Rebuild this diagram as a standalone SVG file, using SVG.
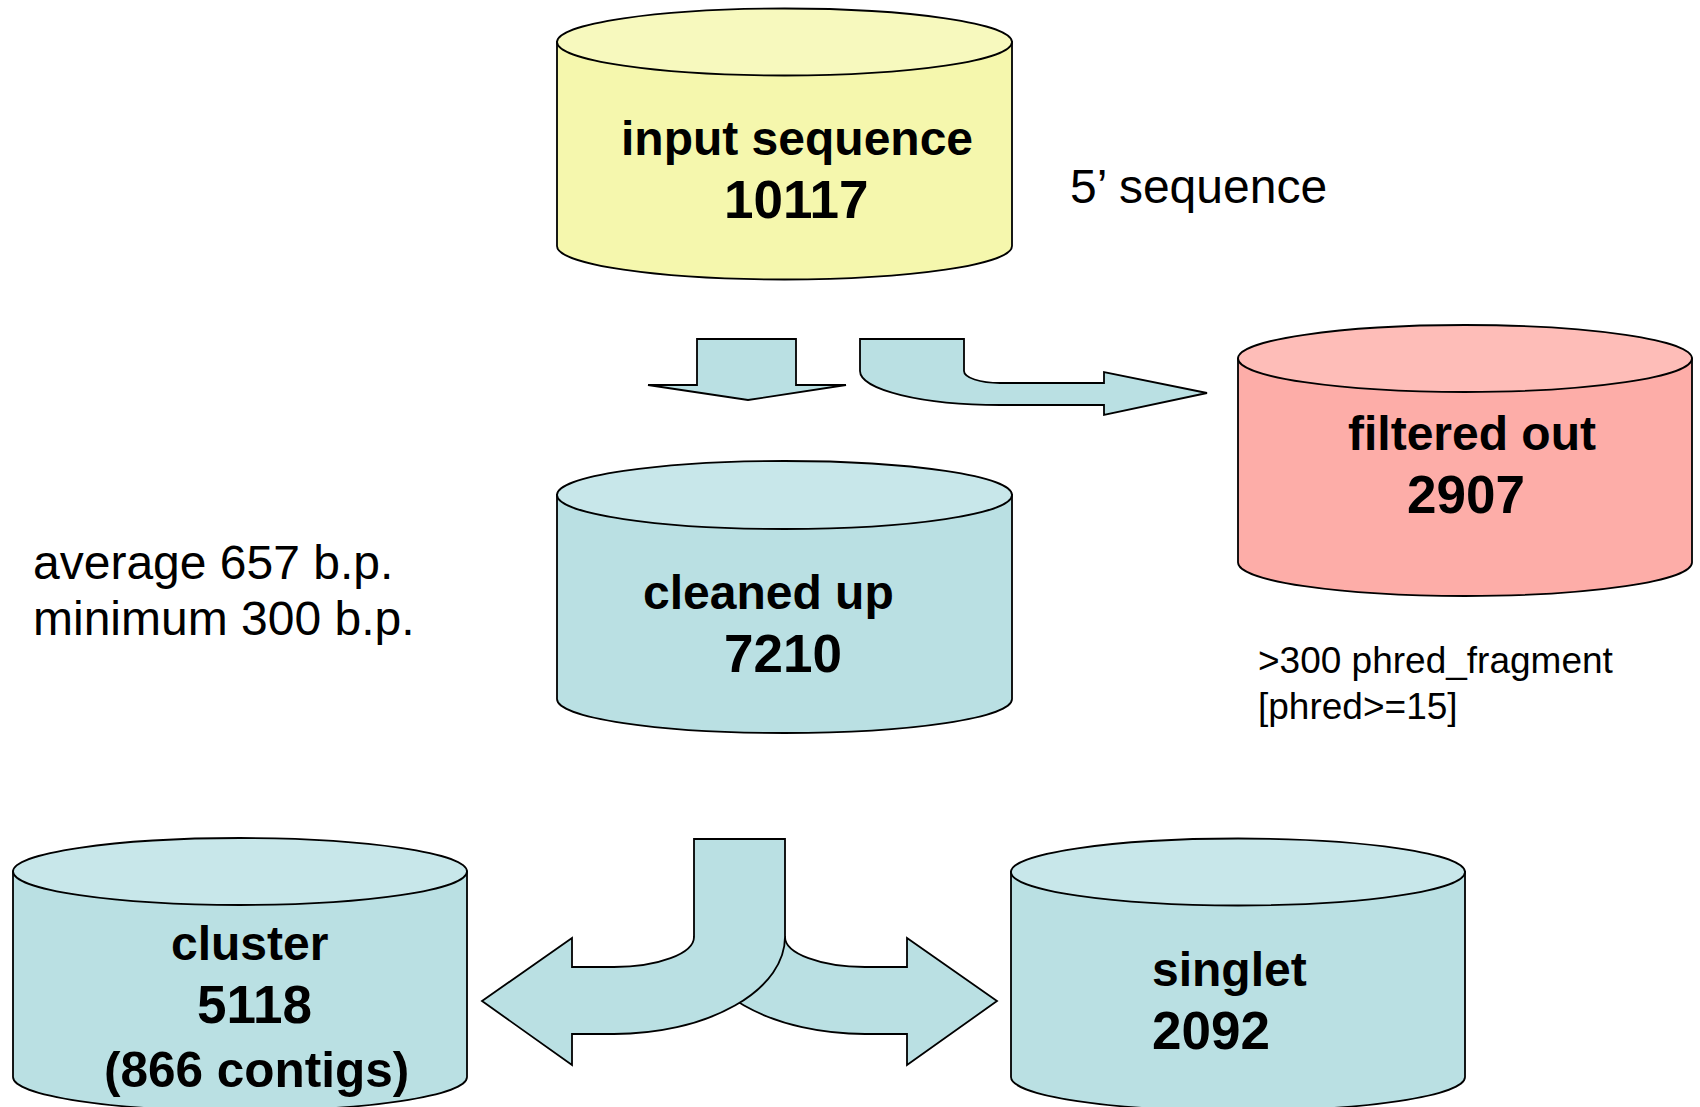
<svg xmlns="http://www.w3.org/2000/svg" width="1700" height="1107" viewBox="0 0 1700 1107">
  <style>
    text { font-family: "Liberation Sans", Arial, Helvetica, sans-serif; fill: #000; }
    .lbl { font-weight: bold; font-size: 48px; }
    .num { font-weight: bold; font-size: 53px; }
    .note { font-size: 48px; }
    .small { font-size: 37px; }
    .edge { stroke: #000; stroke-width: 1.8; stroke-linejoin: miter; }
    .yb { fill: #F5F7AD; } .yt { fill: #F7F9BE; }
    .tb { fill: #BAE0E3; } .tt { fill: #C8E7EA; }
    .pb { fill: #FDADA8; } .pt { fill: #FEBDB8; }
    .arrow { fill: #BAE0E3; stroke: #000; stroke-width: 1.8; stroke-linejoin: miter; }
  </style>

  <rect width="1700" height="1107" fill="#FFFFFF"/>

  <!-- cylinders: body (side + bottom arc), then the top cap -->
  <g id="input-sequence">
    <path class="edge yb" d="M557 42 V246 A227.5 33.5 0 0 0 1012 246 V42 Z"/>
    <ellipse class="edge yt" cx="784.5" cy="42" rx="227.5" ry="33.5"/>
    <text class="lbl" x="621" y="155">input sequence</text>
    <text class="num" x="724" y="218">10117</text>
  </g>

  <g id="filtered-out">
    <path class="edge pb" d="M1238 358.5 V562.5 A227 33.5 0 0 0 1692 562.5 V358.5 Z"/>
    <ellipse class="edge pt" cx="1465" cy="358.5" rx="227" ry="33.5"/>
    <text class="lbl" x="1348" y="450">filtered out</text>
    <text class="num" x="1407" y="513">2907</text>
  </g>

  <g id="cleaned-up">
    <path class="edge tb" d="M557 495 V699 A227.5 34 0 0 0 1012 699 V495 Z"/>
    <ellipse class="edge tt" cx="784.5" cy="495" rx="227.5" ry="34"/>
    <text class="lbl" x="643" y="609">cleaned up</text>
    <text class="num" x="724" y="672">7210</text>
  </g>

  <g id="cluster">
    <path class="edge tb" d="M13 871.5 V1077 A227 34 0 0 0 467 1077 V871.5 Z"/>
    <ellipse class="edge tt" cx="240" cy="871.5" rx="227" ry="33.5"/>
    <text class="lbl" x="171" y="960">cluster</text>
    <text class="num" x="197" y="1023">5118</text>
    <text class="num" x="104" y="1087" style="font-size:49.5px">(866 contigs)</text>
  </g>

  <g id="singlet">
    <path class="edge tb" d="M1011 872 V1077 A227 34 0 0 0 1465 1077 V872 Z"/>
    <ellipse class="edge tt" cx="1238" cy="872" rx="227" ry="33.5"/>
    <text class="lbl" x="1152" y="986">singlet</text>
    <text class="num" x="1152" y="1049">2092</text>
  </g>

  <!-- block arrows -->
  <g id="connectors">
    <!-- straight down: input -> cleaned up -->
    <path class="arrow" d="M697 339 H796 V385 H846 L748 400 L648 385 H697 Z"/>
    <!-- bent right: input -> filtered out -->
    <path class="arrow" d="M860 339 H964 V371 A36 12 0 0 0 1000 383 H1104 V372 L1207 393 L1104 415 V405 H1000 A140 34 0 0 1 860 371 Z"/>
    <!-- split: cleaned up -> singlet (behind) -->
    <path class="arrow" d="M694 937 A171 97 0 0 0 865 1034 H907 V1065 L997 1001 L907 938 V967 H865 A80 30 0 0 1 785 937 Z"/>
    <!-- split: cleaned up -> cluster (front) -->
    <path class="arrow" d="M694 839 H785 V937 A171 97 0 0 1 614 1034 H572 V1065 L482 1001 L572 938 V967 H614 A80 30 0 0 0 694 937 Z"/>
  </g>

  <!-- side notes -->
  <text class="note" x="1070" y="203">5’ sequence</text>
  <text class="note" x="33" y="579">average 657 b.p.</text>
  <text class="note" x="33" y="635">minimum 300 b.p.</text>
  <text class="small" x="1258" y="673">&gt;300 phred_fragment</text>
  <text class="small" x="1258" y="719">[phred&gt;=15]</text>
</svg>
